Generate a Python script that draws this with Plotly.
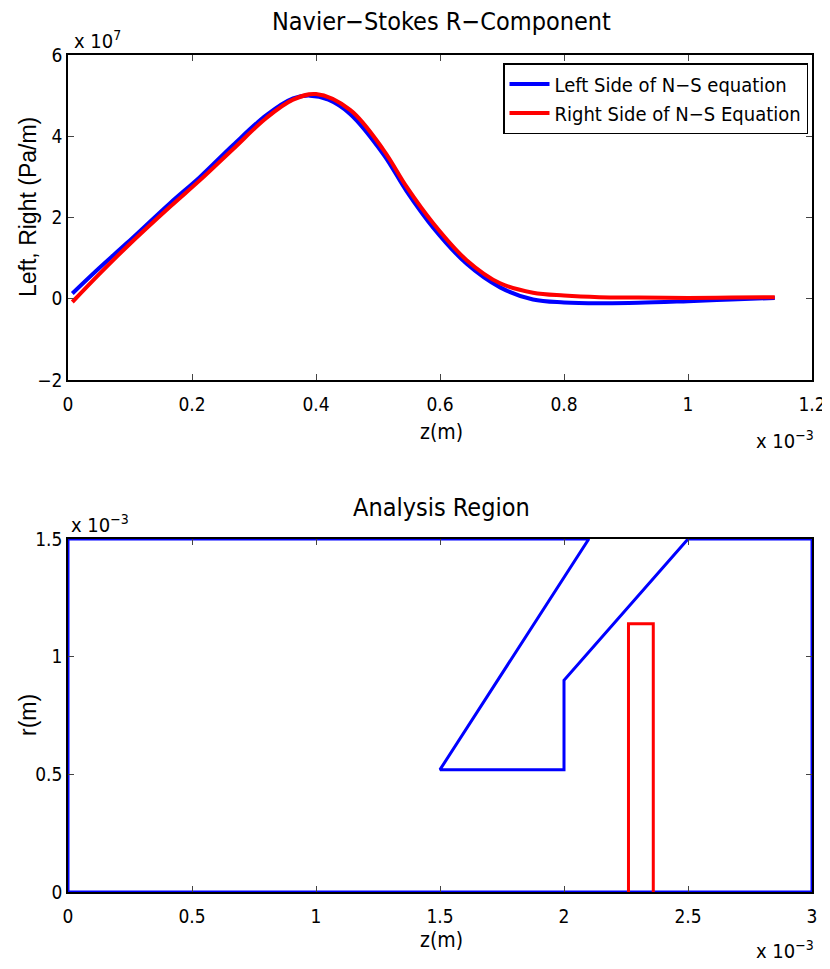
import plotly.graph_objects as go

# ---- Top panel data (z in 1e-3 m, values in 1e7 Pa/m) ----
z_left = [0.007, 0.05, 0.095, 0.165, 0.213, 0.266, 0.32, 0.363, 0.39, 0.42, 0.455, 0.509,
          0.546, 0.589, 0.643, 0.697, 0.75, 0.8, 0.857, 0.92, 1.0, 1.07, 1.14]
left_side = [0.13, 0.75, 1.37, 2.36, 3.0, 3.78, 4.52, 4.93, 5.0, 4.9, 4.55, 3.55,
             2.65, 1.75, 0.86, 0.28, -0.02, -0.09, -0.11, -0.1, -0.06, -0.02, 0.02]
z_right = [0.007, 0.05, 0.095, 0.165, 0.213, 0.266, 0.32, 0.363, 0.40, 0.455, 0.509,
           0.546, 0.589, 0.643, 0.697, 0.75, 0.8, 0.857, 0.92, 1.0, 1.07, 1.14]
right_side = [-0.08, 0.6, 1.28, 2.27, 2.92, 3.68, 4.45, 4.9, 5.04, 4.65, 3.66,
              2.76, 1.86, 0.95, 0.38, 0.15, 0.08, 0.04, 0.03, 0.02, 0.03, 0.04]

# ---- Bottom panel data (z, r in 1e-3 m) ----
region_z = [0, 3, 3, 2.5, 2.0, 2.0, 1.5, 2.1, 0, 0]
region_r = [0, 0, 1.5, 1.5, 0.9, 0.52, 0.52, 1.5, 1.5, 0]
box_z = [2.26, 2.26, 2.36, 2.36]
box_r = [0, 1.14, 1.14, 0]

OFF = 8  # page body margin
W, H = 830 - OFF, 969 - 2 * OFF
L, R, T, B = 68 - OFF, 812 - OFF, 55 - OFF, 892 - OFF  # plotting area in figure pixels
FONT = "Liberation Sans Narrow, DejaVu Sans Condensed, Liberation Sans, Arial"


def px(x):
    return (x - OFF - L) / (R - L)


def py(y):
    return (B - (y - OFF)) / (B - T)


fig = go.Figure()
fig.add_trace(go.Scatter(x=z_left, y=left_side, mode="lines",
                         line=dict(color="#0000ff", width=4, shape="spline", smoothing=1.0),
                         name="Left Side of N\u2212S equation", xaxis="x", yaxis="y"))
fig.add_trace(go.Scatter(x=z_right, y=right_side, mode="lines",
                         line=dict(color="#ff0000", width=4, shape="spline", smoothing=1.0),
                         name="Right Side of N\u2212S Equation", xaxis="x", yaxis="y"))
fig.add_trace(go.Scatter(x=region_z, y=region_r, mode="lines", line=dict(color="#0000ff", width=3),
                         showlegend=False, xaxis="x2", yaxis="y2"))
fig.add_trace(go.Scatter(x=box_z, y=box_r, mode="lines", line=dict(color="#ff0000", width=3),
                         showlegend=False, xaxis="x2", yaxis="y2"))

axis_common = dict(showline=True, linecolor="black", linewidth=1.5, mirror="ticks",
                   ticks="inside", ticklen=6, tickcolor="#444", showgrid=False, zeroline=False,
                   automargin=False, ticklabeloverflow="allow",
                   tickfont=dict(family=FONT, size=19, color="black"))
xaxis_extra = dict(ticklabelstandoff=6)

fig.update_layout(
    width=W, height=H, margin=dict(l=L, r=W - R, t=T, b=H - B, autoexpand=False),
    paper_bgcolor="white", plot_bgcolor="white",
    xaxis=dict(domain=[0, 1], range=[0, 1.2], tickvals=[0, 0.2, 0.4, 0.6, 0.8, 1, 1.2],
               ticktext=["0", "0.2", "0.4", "0.6", "0.8", "1", "1.2"], anchor="y",
               **axis_common, **xaxis_extra),
    yaxis=dict(domain=[py(380), 1], range=[-2, 6], tickvals=[-2, 0, 2, 4, 6],
               ticktext=["\u22122", "0", "2", "4", "6"], anchor="x", **axis_common),
    xaxis2=dict(domain=[0, 1], range=[0, 3], tickvals=[0, 0.5, 1, 1.5, 2, 2.5, 3],
                ticktext=["0", "0.5", "1", "1.5", "2", "2.5", "3"], anchor="y2",
                **axis_common, **xaxis_extra),
    yaxis2=dict(domain=[0, py(539)], range=[0, 1.5], tickvals=[0, 0.5, 1, 1.5],
                ticktext=["0", "0.5", "1", "1.5"], anchor="x2", **axis_common),
    legend=dict(x=px(503), y=py(63), xanchor="left", yanchor="top", bgcolor="white",
                bordercolor="black", borderwidth=1.5, font=dict(family=FONT, size=20, color="black"),
                tracegroupgap=0, itemwidth=40),
    showlegend=True,
)

ann = [
    dict(text="Navier\u2212Stokes R\u2212Component", x=441, y=22, size=25),
    dict(text="Analysis Region", x=441, y=507, size=25),
    dict(text="z(m)", x=441, y=432, size=21),
    dict(text="z(m)", x=441, y=940, size=21),
    dict(text="x 10<sup>7</sup>", x=97, y=40, size=20),
    dict(text="x 10<sup>\u22123</sup>", x=785, y=440, size=20),
    dict(text="x 10<sup>\u22123</sup>", x=785, y=950, size=20),
    dict(text="x 10<sup>\u22123</sup>", x=100, y=524, size=20),
]
for a in ann:
    fig.add_annotation(text=a["text"], x=px(a["x"]), y=py(a["y"]), xref="paper", yref="paper",
                       showarrow=False, xanchor="center", yanchor="middle",
                       font=dict(family=FONT, size=a["size"], color="black"))

fig.add_annotation(text="Left, Right (Pa/m)", x=px(28), y=py(207), xref="paper", yref="paper",
                   showarrow=False, textangle=-90, xanchor="center", yanchor="middle",
                   font=dict(family="Liberation Sans, Arial", size=23, color="black"))
fig.add_annotation(text="r(m)", x=px(28), y=py(715), xref="paper", yref="paper",
                   showarrow=False, textangle=-90, xanchor="center", yanchor="middle",
                   font=dict(family="Liberation Sans, Arial", size=23, color="black"))

fig.write_html("out.html")
